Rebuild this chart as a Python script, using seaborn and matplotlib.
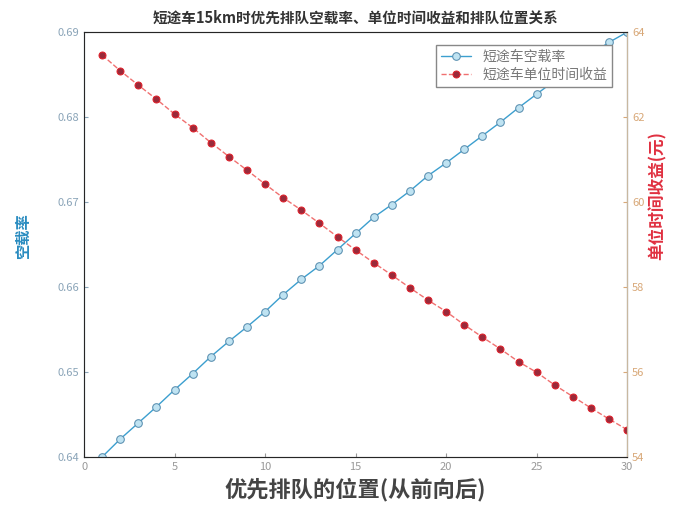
# 短途车空载率 / 单位时间收益 vs 优先排队位置
import pandas as pd
import seaborn as sns
import matplotlib.pyplot as plt

# Data
position = list(range(1, 31))
empty_rate = [0.6400, 0.6421, 0.6440, 0.6459, 0.6479, 0.6498, 0.6518, 0.6536, 0.6553, 0.6571,
              0.6591, 0.6609, 0.6625, 0.6644, 0.6663, 0.6682, 0.6697, 0.6713, 0.6731, 0.6746,
              0.6762, 0.6778, 0.6794, 0.6811, 0.6827, 0.6843, 0.6858, 0.6874, 0.6888, 0.6900]
income = [63.46, 63.09, 62.75, 62.42, 62.07, 61.75, 61.40, 61.07, 60.75, 60.42,
          60.10, 59.81, 59.50, 59.18, 58.87, 58.57, 58.28, 57.98, 57.69, 57.42,
          57.11, 56.82, 56.54, 56.24, 55.99, 55.69, 55.42, 55.15, 54.89, 54.64]

df = pd.DataFrame({"pos": position, "rate": empty_rate, "income": income})

sns.set_style("ticks")
plt.rcParams['font.family'] = ['Noto Sans CJK SC', 'DejaVu Sans']

blue = "#3c9fcf"
red = "#e0202a"

fig = plt.figure(figsize=(6.78, 5.18), dpi=100)
ax = fig.add_axes([0.124, 0.118, 0.801, 0.820])
ax2 = ax.twinx()

sns.lineplot(data=df, x="pos", y="rate", ax=ax, color=blue, linewidth=1.0,
             marker="o", markersize=5.5, markerfacecolor="#bfe3f2",
             markeredgecolor="#5a8fb0", label="短途车空载率", legend=False)
sns.lineplot(data=df, x="pos", y="income", ax=ax2, color="#f07070", linewidth=1.0,
             linestyle="--", marker="o", markersize=5, markerfacecolor="#9a2a3a",
             markeredgecolor=red, label="短途车单位时间收益", legend=False)

ax.set_xlim(0, 30)
ax.set_ylim(0.64, 0.69)
ax2.set_ylim(54, 64)
ax.set_xticks([0, 5, 10, 15, 20, 25, 30])
ax.set_yticks([0.64, 0.65, 0.66, 0.67, 0.68, 0.69])
ax2.set_yticks([54, 56, 58, 60, 62, 64])

ax.tick_params(direction="in", labelsize=8, colors="#8aa4b8", length=3)
ax.tick_params(axis="x", colors="#999999")
ax2.tick_params(direction="in", labelsize=8, colors="#d8a878", length=3)
ax.spines["left"].set_color("#7d9cb5")
ax.spines["bottom"].set_color("#888888")
ax.spines["top"].set_color("#888888")
ax2.spines["right"].set_color("#c8b8a0")

ax.set_xlabel("优先排队的位置(从前向后)", fontsize=16, fontweight="bold", color="#444444")
ax.set_ylabel("空载率", fontsize=11, fontweight="bold", color="#2a8cc0")
ax.yaxis.set_label_coords(-0.098, 0.52)
ax2.set_ylabel("单位时间收益(元)", fontsize=12, fontweight="bold", color="#e03040")
ax2.yaxis.set_label_coords(1.040, 0.616)
ax.set_title("短途车15km时优先排队空载率、单位时间收益和排队位置关系", fontsize=10.5,
             fontweight="bold", color="#333333", pad=7)

h1, l1 = ax.get_legend_handles_labels()
h2, l2 = ax2.get_legend_handles_labels()
ax2.legend(h1 + h2, l1 + l2, loc="upper right", bbox_to_anchor=(0.985, 0.985),
           fontsize=10, frameon=True, fancybox=False, edgecolor="#888888",
           labelcolor="#777777", borderpad=0.35, labelspacing=0.25, handlelength=2.2,
           framealpha=1)

fig.savefig("out.png", dpi=100)
